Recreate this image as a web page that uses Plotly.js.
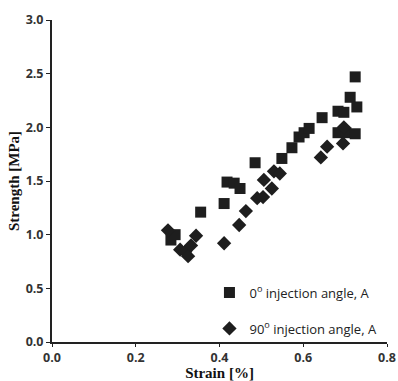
<!DOCTYPE html>
<html>
<head>
<meta charset="utf-8">
<script src="https://cdn.plot.ly/plotly-3.0.1.min.js"></script>
<style>html,body{margin:0;padding:0;background:#fff}#chart{width:398px;height:381px}</style>
</head>
<body>
<div id="chart"></div>
<script>
var strain0 = [0.284, 0.294, 0.355, 0.411, 0.418, 0.435, 0.449, 0.485, 0.549, 0.573, 0.590, 0.602, 0.614, 0.645, 0.683, 0.697, 0.683, 0.702, 0.724, 0.712, 0.728, 0.724];
var strength0 = [0.95, 1.00, 1.21, 1.29, 1.49, 1.48, 1.43, 1.67, 1.71, 1.81, 1.91, 1.95, 1.99, 2.09, 2.15, 2.14, 1.95, 1.95, 1.94, 2.28, 2.19, 2.47];
var strain90 = [0.277, 0.306, 0.318, 0.325, 0.332, 0.344, 0.411, 0.447, 0.463, 0.490, 0.504, 0.525, 0.506, 0.530, 0.544, 0.642, 0.657, 0.695, 0.697];
var strength90 = [1.04, 0.86, 0.84, 0.80, 0.90, 0.99, 0.92, 1.09, 1.22, 1.34, 1.35, 1.43, 1.51, 1.59, 1.57, 1.72, 1.82, 1.85, 2.00];
var seriesNames = ['0<sup>o</sup> injection angle, A', '90<sup>o</sup> injection angle, A'];

var traces = [
  {x: strain0, y: strength0, type: 'scatter', mode: 'markers', name: seriesNames[0], legendgroup: 'a',
   marker: {symbol: 'square', size: 11, color: '#1e1e1e'}},
  {x: strain90, y: strength90, type: 'scatter', mode: 'markers', name: seriesNames[1], legendgroup: 'b',
   marker: {symbol: 'diamond', size: 11, color: '#1e1e1e'}}
];

var tickFont = {family: 'Open Sans, sans-serif', size: 12.5, color: '#333', weight: 'bold'};
var titleFont = {family: 'Liberation Serif, serif', size: 15, color: '#111', weight: 'bold'};
var layout = {
  width: 398, height: 381,
  margin: {l: 52, r: 11, t: 20, b: 39},
  paper_bgcolor: '#fff', plot_bgcolor: '#fff',
  showlegend: true,
  legend: {x: 0.47, y: 0.2, xanchor: 'left', yanchor: 'top', bgcolor: 'rgba(0,0,0,0)',
           font: {family: 'Open Sans, sans-serif', size: 13, color: '#222'}, tracegroupgap: 16, itemwidth: 30},
  xaxis: {range: [0, 0.8], dtick: 0.2, tickformat: '.1f', showgrid: false, zeroline: false,
          showline: true, linecolor: '#222', linewidth: 2, ticks: 'outside', ticklen: 3, tickcolor: '#222',
          tickfont: tickFont,
          title: {text: 'Strain [%]', font: titleFont, standoff: 5}},
  yaxis: {range: [0, 3], dtick: 0.5, tickformat: '.1f', showgrid: false, zeroline: false,
          showline: true, linecolor: '#222', linewidth: 2, ticks: 'outside', ticklen: 4, tickcolor: '#222',
          tickfont: tickFont,
          title: {text: 'Strength [MPa]', font: titleFont, standoff: 2}}
};
Plotly.newPlot('chart', traces, layout, {displayModeBar: false, staticPlot: true});
</script>
</body>
</html>
